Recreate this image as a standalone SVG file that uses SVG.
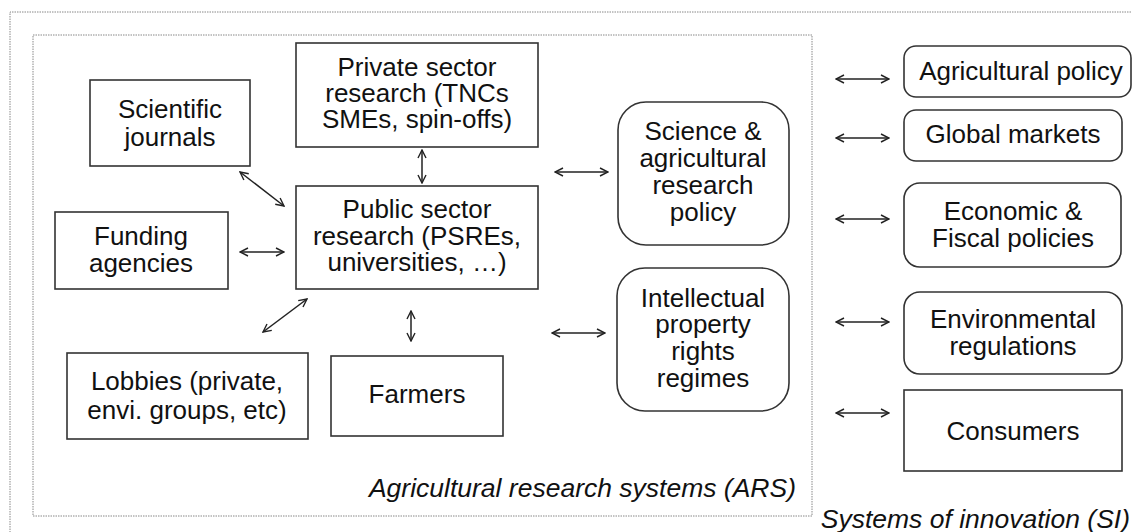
<svg xmlns="http://www.w3.org/2000/svg" width="1132" height="532" viewBox="0 0 1132 532">
<defs>
<marker id="ah" viewBox="0 0 10 10" refX="9" refY="5" markerWidth="10" markerHeight="10" markerUnits="userSpaceOnUse" orient="auto-start-reverse">
<path d="M1,1 L9,5 L1,9" fill="none" stroke="#222" stroke-width="1.4"/>
</marker>
</defs>
<style>
.box{fill:#fff;stroke:#333;stroke-width:1.6}
.t{font-family:"Liberation Sans",Arial,sans-serif;font-size:26px;fill:#111;text-anchor:middle}
.it{font-family:"Liberation Sans",Arial,sans-serif;font-size:26.5px;font-style:italic;fill:#111}
.dot{fill:none;stroke:#888;stroke-width:1;stroke-dasharray:1.5 1}
.c{stroke:#222;stroke-width:1.5;fill:none;marker-start:url(#ah);marker-end:url(#ah)}
</style>
<rect width="1132" height="532" fill="#fff"/>
<g id="si-frame">
<path class="dot" d="M10,540 L10,12 L1140,12"/>
<text class="it" x="1130" y="528" text-anchor="end">Systems of innovation (SI)</text>
</g>
<g id="ars-frame">
<rect class="dot" x="33" y="35" width="779" height="481"/>
<text class="it" x="796" y="497" text-anchor="end">Agricultural research systems (ARS)</text>
</g>
<g id="connectors">
<line class="c" x1="240" y1="172" x2="284" y2="206"/>
<line class="c" x1="240" y1="252" x2="284" y2="252"/>
<line class="c" x1="263" y1="332" x2="307" y2="299"/>
<line class="c" x1="422" y1="150" x2="422" y2="183"/>
<line class="c" x1="411" y1="311" x2="411" y2="341"/>
<line class="c" x1="555" y1="172" x2="608" y2="172"/>
<line class="c" x1="552" y1="333" x2="605" y2="333"/>
<line class="c" x1="836" y1="79" x2="889" y2="79"/>
<line class="c" x1="836" y1="138" x2="889" y2="138"/>
<line class="c" x1="836" y1="219" x2="889" y2="219"/>
<line class="c" x1="836" y1="322" x2="889" y2="322"/>
<line class="c" x1="836" y1="413" x2="889" y2="413"/>
</g>
<g id="scientific-journals">
<rect class="box" x="90" y="80" width="160" height="86"/>
<text class="t" x="170" y="118">Scientific</text>
<text class="t" x="170" y="146">journals</text>
</g>
<g id="private-sector">
<rect class="box" x="296" y="43" width="242" height="104"/>
<text class="t" x="417" y="76">Private sector</text>
<text class="t" x="417" y="102">research (TNCs</text>
<text class="t" x="417" y="128">SMEs, spin-offs)</text>
</g>
<g id="public-sector">
<rect class="box" x="296" y="186" width="242" height="103"/>
<text class="t" x="417" y="218">Public sector</text>
<text class="t" x="417" y="245">research (PSREs,</text>
<text class="t" x="417" y="271">universities, …)</text>
</g>
<g id="funding-agencies">
<rect class="box" x="55" y="212" width="173" height="77"/>
<text class="t" x="141" y="245">Funding</text>
<text class="t" x="141" y="272">agencies</text>
</g>
<g id="lobbies">
<rect class="box" x="67" y="353" width="241" height="86"/>
<text class="t" x="187" y="390">Lobbies (private,</text>
<text class="t" x="187" y="419">envi. groups, etc)</text>
</g>
<g id="farmers">
<rect class="box" x="331" y="356" width="172" height="80"/>
<text class="t" x="417" y="403">Farmers</text>
</g>
<g id="science-policy">
<rect class="box" x="618" y="102" width="171" height="143" rx="28"/>
<text class="t" x="703" y="140">Science &amp;</text>
<text class="t" x="703" y="167">agricultural</text>
<text class="t" x="703" y="194">research</text>
<text class="t" x="703" y="221">policy</text>
</g>
<g id="ipr-regimes">
<rect class="box" x="617" y="268" width="172" height="143" rx="28"/>
<text class="t" x="703" y="307">Intellectual</text>
<text class="t" x="703" y="333">property</text>
<text class="t" x="703" y="360">rights</text>
<text class="t" x="703" y="387">regimes</text>
</g>
<g id="agricultural-policy">
<rect class="box" x="904" y="46" width="227" height="51" rx="12"/>
<text class="t" x="1021" y="80">Agricultural policy</text>
</g>
<g id="global-markets">
<rect class="box" x="904" y="110" width="218" height="51" rx="12"/>
<text class="t" x="1013" y="143">Global markets</text>
</g>
<g id="economic-fiscal">
<rect class="box" x="904" y="183" width="217" height="84" rx="16"/>
<text class="t" x="1013" y="220">Economic &amp;</text>
<text class="t" x="1013" y="247">Fiscal policies</text>
</g>
<g id="environmental-regulations">
<rect class="box" x="904" y="292" width="218" height="82" rx="16"/>
<text class="t" x="1013" y="328">Environmental</text>
<text class="t" x="1013" y="355">regulations</text>
</g>
<g id="consumers">
<rect class="box" x="904" y="390" width="218" height="81"/>
<text class="t" x="1013" y="440">Consumers</text>
</g>
</svg>
